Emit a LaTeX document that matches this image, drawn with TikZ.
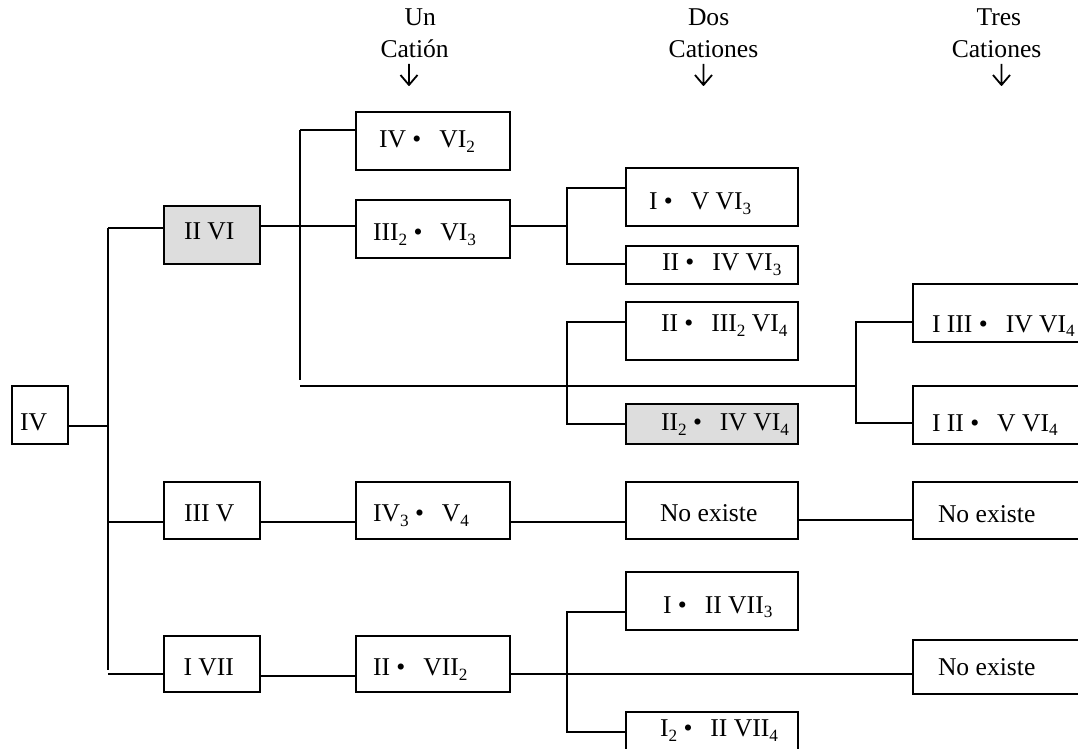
\documentclass[tikz,border=0pt]{standalone}
\usepackage{fontspec}
\setmainfont{Liberation Serif}
\usetikzlibrary{calc}
\definecolor{shade}{RGB}{221,221,221}
% subscript and centred dot used in the formulas
\newcommand\sbs[1]{\raisebox{-2.2pt}{\fontsize{8.6pt}{9pt}\selectfont #1}}
\newcommand\cdt{•\hspace{0.7em}}
% box given by its corners (x1,y1) (x2,y2) in picture units
\newcommand\putbox[6][]{\node[box,#1,minimum width={((#5)-(#3))*0.5pt},minimum height={((#6)-(#4))*0.5pt}] (#2) at ({((#3)+(#5))/2},{((#4)+(#6))/2}) {};}
\begin{document}
\begin{tikzpicture}[x=0.5pt,y=-0.5pt,
  box/.style={draw, line width=1pt, inner sep=0pt, outer sep=0pt},
  lbl/.style={anchor=base west, inner sep=0pt, outer sep=0pt, font=\fontsize{12.8pt}{15pt}\selectfont},
  wire/.style={line width=1pt},
  down/.style={line width=0.9pt, line join=round}]
\useasboundingbox (0,0) rectangle (1078,749);
\clip (0,0) rectangle (1078,749);

% column headings
\node[lbl] (h1a) at (404.6,26) {Un};
\node[lbl] (h1b) at (380.5,58) {Catión};
\node[lbl] (h2a) at (688,26) {Dos};
\node[lbl] (h2b) at (668.7,58) {Cationes};
\node[lbl] (h3a) at (976.5,26) {Tres};
\node[lbl] (h3b) at (951.8,58) {Cationes};
\draw[down] (409,64) -- (409,85) (400.5,75) -- (409,85) -- (417.5,75);
\draw[down] (703.5,64) -- (703.5,85) (695,75) -- (703.5,85) -- (712,75);
\draw[down] (1001.5,64) -- (1001.5,85) (993,75) -- (1001.5,85) -- (1010,75);

% boxes
\putbox{iv}{12}{386}{68}{444}
\putbox[fill=shade]{iivi}{164}{206}{260}{264}
\putbox{iiiv}{164}{482}{260}{539}
\putbox{ivii}{164}{636}{260}{692}
\putbox{c1a}{356}{112}{510}{170}
\putbox{c1b}{356}{200}{510}{258}
\putbox{c1c}{356}{482}{510}{539}
\putbox{c1d}{356}{636}{510}{692}
\putbox{c2a}{626}{168}{798}{226}
\putbox{c2b}{626}{246}{798}{284}
\putbox{c2c}{626}{302}{798}{360}
\putbox[fill=shade]{c2d}{626}{404}{798}{444}
\putbox{c2e}{626}{482}{798}{539}
\putbox{c2f}{626}{572}{798}{630}
\putbox{c2g}{626}{712}{798}{770}
\putbox{c3a}{913}{284}{1100}{342}
\putbox{c3b}{913}{386}{1100}{444}
\putbox{c3c}{913}{482}{1100}{539}
\putbox{c3d}{913}{640}{1100}{694}

% labels
\node[lbl] (l-iv) at (20,430) {IV};
\node[lbl] (l-iivi) at (184,240) {II VI};
\node[lbl] (l-iiiv) at (184,521.7) {III V};
\node[lbl] (l-ivii) at (183.5,675.7) {I VII};
\node[lbl] (l-c1a) at (379,148) {IV \cdt VI\sbs2};
\node[lbl] (l-c1b) at (373,240.7) {III\sbs2 \cdt VI\sbs3};
\node[lbl] (l-c1c) at (373,521.7) {IV\sbs3 \cdt V\sbs4};
\node[lbl] (l-c1d) at (373,675.7) {II \cdt VII\sbs2};
\node[lbl] (l-c2a) at (649,210) {I \cdt V VI\sbs3};
\node[lbl] (l-c2b) at (662,270.7) {II \cdt IV VI\sbs3};
\node[lbl] (l-c2c) at (661,331.7) {II \cdt III\sbs2 VI\sbs4};
\node[lbl] (l-c2d) at (661,430.7) {II\sbs2 \cdt IV VI\sbs4};
\node[lbl] (l-c2e) at (660,521.7) {No existe};
\node[lbl] (l-c2f) at (663,613) {I \cdt II VII\sbs3};
\node[lbl] (l-c2g) at (660,736.7) {I\sbs2 \cdt II VII\sbs4};
\node[lbl] (l-c3a) at (932,332) {I III \cdt IV VI\sbs4};
\node[lbl] (l-c3b) at (932,431) {I II \cdt V VI\sbs4};
\node[lbl] (l-c3c) at (938,522) {No existe};
\node[lbl] (l-c3d) at (938,675) {No existe};

% junction points
\coordinate (k0) at ($(iivi.west)+(-56,-7)$);
\coordinate (k1) at ($(c1a.west)+(-56,-11)$);
\coordinate (k1e) at (300,380);
\coordinate (hl) at (300,386);
\coordinate (k3) at ($(c3a.west)+(-57,9)$);

% connectors
\draw[wire] ($(iv.east)+(0,11)$) -- ++(40,0);
\draw[wire] (k0) -- ++(0,442);
\draw[wire] ($(iivi.west)+(0,-7)$) -- (k0);
\draw[wire] ($(iiiv.west)+(0,11.5)$) -- ++(-56,0);
\draw[wire] ($(ivii.west)+(0,10)$) -- ++(-56,0);

\draw[wire] ($(iivi.east)+(0,-9)$) -- ($(c1b.west)+(0,-3)$);
\draw[wire] (k1) -- (k1e);
\draw[wire] (k1) -- ($(c1a.west)+(0,-11)$);
\draw[wire] (hl) -- (hl -| k3);
\draw[wire] ($(c3a.west)+(0,9)$) -- (k3) |- ($(c3b.west)+(0,8)$);

\draw[wire] ($(c1b.east)+(0,-3)$) -- ++(57,0);
\draw[wire] ($(c2a.west)+(0,-9)$) -- ++(-59,0) |- ($(c2b.west)+(0,-1)$);
\draw[wire] ($(c2c.west)+(0,-9)$) -- ++(-59,0) |- (c2d.west);

\draw[wire] ($(iiiv.east)+(0,11.5)$) -- ($(c1c.west)+(0,11.5)$);
\draw[wire] ($(c1c.east)+(0,11.5)$) -- ($(c2e.west)+(0,11.5)$);
\draw[wire] ($(c2e.east)+(0,9.5)$) -- ($(c3c.west)+(0,9.5)$);

\draw[wire] ($(ivii.east)+(0,12)$) -- ($(c1d.west)+(0,12)$);
\draw[wire] ($(c1d.east)+(0,10)$) -- ($(c3d.west)+(0,7)$);
\draw[wire] ($(c2f.west)+(0,11)$) -- ++(-59,0) |- ($(c2g.west)+(0,-9)$);
\end{tikzpicture}
\end{document}
